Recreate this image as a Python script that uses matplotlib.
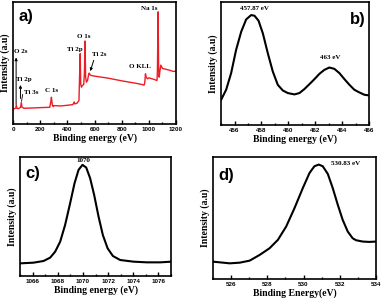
import matplotlib
matplotlib.use('Agg')
import matplotlib.pyplot as plt
from matplotlib.ticker import MultipleLocator

plt.rcParams['font.family'] = ['Liberation Serif', 'DejaVu Serif']
plt.rcParams['lines.solid_joinstyle'] = 'round'

# a) survey spectrum
survey_e = [0, 10, 20, 24, 28, 40, 55, 60, 66, 80, 150, 200, 270, 278, 282, 286, 290,
            296, 300, 350, 400, 440, 450, 455, 470, 485, 490, 494, 498, 503, 510, 520,
            525, 530, 534, 540, 548, 555, 560, 565, 575, 600, 700, 800, 900, 950, 965,
            970, 975, 980, 990, 1000, 1040, 1060, 1063, 1068, 1072, 1076, 1082, 1088,
            1100, 1120, 1150, 1180, 1200]
survey_i = [44, 46, 48, 56, 47, 46, 50, 64, 50, 47, 48, 49, 50, 68, 80, 66, 55,
            52, 55, 54, 56, 58, 66, 60, 62, 70, 150, 210, 120, 110, 115, 118,
            150, 248, 140, 125, 130, 145, 152, 148, 145, 143, 137, 129, 122, 118, 116,
            125, 150, 140, 135, 138, 133, 130, 160, 335, 160, 140, 160, 176,
            166, 164, 161, 157, 158]

# b) Ti 2p
ti_e = [455.0, 455.37, 455.74, 456.11, 456.49, 456.86, 457.23, 457.48, 457.78, 458.1,
        458.47, 458.84, 459.21, 459.58, 459.96, 460.45, 460.82, 461.19, 461.57, 461.94,
        462.31, 462.68, 463.05, 463.42, 463.8, 464.17, 464.54, 464.91, 465.28, 465.65,
        466.0]
ti_i = [76, 106, 156, 226, 281, 318, 331, 329, 314, 276, 216, 161, 121, 104, 96, 92,
        96, 108, 123, 138, 154, 166, 173, 169, 156, 138, 121, 106, 98, 91, 89]

# c) Na 1s
na_e = [1065.0, 1066.06, 1066.86, 1067.39, 1067.79, 1068.19, 1068.58, 1068.98, 1069.33,
        1069.65, 1069.96, 1070.26, 1070.57, 1070.89, 1071.24, 1071.58, 1071.96, 1072.38,
        1072.96, 1074.03, 1075.09, 1076.15, 1077.0]
na_i = [38, 40, 45, 55, 73, 103, 153, 218, 278, 318, 333, 325, 293, 243, 178, 123, 83,
        60, 48, 43, 41, 41, 43]

# d) O 1s
o_e = [525.0, 525.92, 526.47, 527.02, 527.57, 528.12, 528.58, 529.04, 529.5, 529.96,
       530.33, 530.6, 530.84, 531.06, 531.34, 531.61, 531.89, 532.16, 532.44, 532.71,
       532.9, 533.27, 533.63, 534.0]
o_i = [52, 47, 49, 55, 72, 92, 117, 157, 212, 272, 317, 337, 342, 337, 314, 272, 222,
       177, 142, 122, 116, 112, 111, 112]

fig = plt.figure(figsize=(3.86, 3.04), dpi=100)

lab_font = dict(fontsize=7, fontweight='bold')
tick_font = dict(family='Liberation Sans', size=4.5, weight='bold')


def style_axes(ax, major, minor, xlabel):
    for s in ax.spines.values():
        s.set_linewidth(1.2)
    ax.xaxis.set_major_locator(MultipleLocator(major))
    ax.xaxis.set_minor_locator(MultipleLocator(minor))
    ax.tick_params(axis='x', which='both', direction='in', width=1, pad=2)
    ax.tick_params(axis='x', which='major', length=3)
    ax.tick_params(axis='x', which='minor', length=1.8)
    ax.set_yticks([])
    for t in ax.get_xticklabels():
        t.set_fontproperties(tick_font)
    ax.set_xlabel(xlabel, labelpad=1, **lab_font)
    ax.set_ylabel('Intensity (a.u)', labelpad=2, **lab_font)


def panel_label(ax, s, x, y, ha='left'):
    ax.text(x, y, s, transform=ax.transAxes, ha=ha, va='center', fontsize=12,
            fontweight='bold', family='Liberation Sans')


ann = dict(fontsize=5, fontweight='bold')
arrow = dict(arrowstyle='-|>', color='black', lw=0.7, mutation_scale=4)

# panel a
ax = fig.add_axes([0.034, 0.592, 0.422, 0.401])
ax.plot(survey_e, survey_i, color='#ee1c25', lw=1)
ax.set_xlim(0, 1200)
ax.set_ylim(0, 364)
style_axes(ax, 200, 100, 'Binding energy (eV)')
panel_label(ax, 'a)', 0.035, 0.885)
ax.text(5, 218, 'O 2s', ha='left', va='center', **ann)
ax.annotate('', xy=(22, 207), xytext=(22, 50), arrowprops=arrow)
ax.text(24, 133, 'Ti 2p', ha='left', va='center', **ann)
ax.annotate('', xy=(54, 125), xytext=(54, 68), arrowprops=arrow)
ax.text(78, 95, 'Ti 3s', ha='left', va='center', **ann)
ax.plot([70, 62], [88, 68], color='black', lw=0.6)
ax.text(238, 100, 'C 1s', ha='left', va='center', **ann)
ax.text(458, 222, 'Ti 2p', ha='center', va='center', **ann)
ax.text(520, 262, 'O 1s', ha='center', va='center', **ann)
ax.text(635, 208, 'Ti 2s', ha='center', va='center', **ann)
ax.annotate('', xy=(562, 150), xytext=(600, 198), arrowprops=arrow)
ax.text(935, 172, 'O KLL', ha='center', va='center', **ann)
ax.text(1000, 345, 'Na 1s', ha='center', va='center', **ann)

# panel b
ax = fig.add_axes([0.573, 0.589, 0.383, 0.404])
ax.plot(ti_e, ti_i, color='black', lw=1.5)
ax.set_xlim(455, 466)
ax.set_ylim(0, 370)
style_axes(ax, 2, 1, 'Binding energy (eV)')
panel_label(ax, 'b)', 0.975, 0.86, ha='right')
ax.text(457.45, 352, '457.87 eV', ha='center', va='center', **ann)
ax.text(463.1, 204, '463 eV', ha='center', va='center', **ann)

# panel c
ax = fig.add_axes([0.052, 0.092, 0.391, 0.392])
ax.plot(na_e, na_i, color='black', lw=1.5)
ax.set_xlim(1065, 1077)
ax.set_ylim(0, 357)
style_axes(ax, 2, 1, 'Binding energy (eV)')
panel_label(ax, 'c)', 0.035, 0.86)
ax.text(1070, 346, '1070', ha='center', va='center', **ann)

# panel d
ax = fig.add_axes([0.552, 0.082, 0.422, 0.402])
ax.plot(o_e, o_i, color='black', lw=1.5)
ax.set_xlim(525, 534)
ax.set_ylim(0, 365)
style_axes(ax, 2, 1, 'Binding Energy(eV)')
panel_label(ax, 'd)', 0.035, 0.85)
ax.text(532.3, 346, '530.83 eV', ha='center', va='center', **ann)

fig.savefig('out.png', dpi=100)
